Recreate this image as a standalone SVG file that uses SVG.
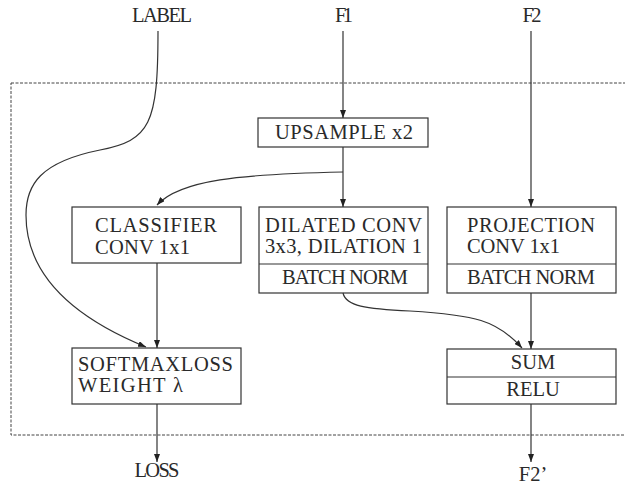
<svg xmlns="http://www.w3.org/2000/svg" width="625" height="485" viewBox="0 0 625 485">
  <defs>
    <marker id="arrow" markerWidth="8" markerHeight="6" refX="8" refY="3" orient="auto" markerUnits="userSpaceOnUse">
      <path d="M0,0 L8,3 L0,6 z" fill="#222"/>
    </marker>
    <style>
      .box { fill: #fff; stroke: #333; stroke-width: 1.2; }
      .div { stroke: #333; stroke-width: 1.2; }
      .t { font-family: "Liberation Serif", "Times New Roman", serif; font-size: 20.5px; fill: #2a2a2a; }
      .c { text-anchor: middle; }
      .edge { fill: none; stroke: #333; stroke-width: 1.2; marker-end: url(#arrow); }
      .frame { fill: none; stroke: #444; stroke-width: 1; stroke-dasharray: 3 1.5; }
    </style>
  </defs>
  <rect width="625" height="485" fill="#fff"/>

  <!-- dashed module boundary -->
  <rect class="frame" x="11" y="83" width="630" height="352"/>

  <!-- outer inputs / outputs -->
  <g id="label-in"><text class="t c" x="162" y="22" textLength="60">LABEL</text></g>
  <g id="f1-in"><text class="t c" x="344" y="22" textLength="18">F1</text></g>
  <g id="f2-in"><text class="t c" x="532" y="22" textLength="19">F2</text></g>
  <g id="loss-out"><text class="t c" x="157" y="477" textLength="45">LOSS</text></g>
  <g id="f2p-out"><text class="t c" x="533" y="481">F2’</text></g>

  <!-- nodes -->
  <g id="upsample">
    <rect class="box" x="258" y="118" width="170" height="29"/>
    <text class="t" x="275" y="139" textLength="138">UPSAMPLE x2</text>
  </g>
  <g id="classifier">
    <rect class="box" x="72" y="207" width="169" height="56"/>
    <text class="t" x="95" y="232" textLength="122">CLASSIFIER</text>
    <text class="t" x="95" y="254" textLength="95">CONV 1x1</text>
  </g>
  <g id="dilated">
    <rect class="box" x="259" y="207" width="169" height="86"/>
    <line class="div" x1="259" y1="264" x2="428" y2="264"/>
    <text class="t" x="265" y="232" textLength="157">DILATED CONV</text>
    <text class="t" x="265" y="253" textLength="157">3x3, DILATION 1</text>
    <text class="t" x="282" y="284" textLength="126">BATCH NORM</text>
  </g>
  <g id="projection">
    <rect class="box" x="447" y="207" width="169" height="86"/>
    <line class="div" x1="447" y1="264" x2="616" y2="264"/>
    <text class="t" x="467" y="232" textLength="128">PROJECTION</text>
    <text class="t" x="467" y="253" textLength="93">CONV 1x1</text>
    <text class="t" x="467" y="284" textLength="128">BATCH NORM</text>
  </g>
  <g id="softmaxloss">
    <rect class="box" x="72" y="348" width="169" height="56"/>
    <text class="t" x="78" y="371" textLength="155">SOFTMAXLOSS</text>
    <text class="t" x="78" y="392" textLength="105">WEIGHT λ</text>
  </g>
  <g id="sum-relu">
    <rect class="box" x="447" y="349" width="169" height="55"/>
    <line class="div" x1="447" y1="377" x2="616" y2="377"/>
    <text class="t c" x="533" y="369">SUM</text>
    <text class="t c" x="533" y="396">RELU</text>
  </g>

  <!-- connectors -->
  <g id="connectors">
    <path class="edge" d="M343,31 L343,118"/>
    <path class="edge" d="M531,31 L531,207"/>
    <path class="edge" d="M343,147 L343,207"/>
    <path class="edge" d="M343,172 C240,174 180,180 157,205"/>
    <path class="edge" d="M158,31 C158,125 150,140 100,150 C40,162 26,185 26,215 C26,280 80,320 146,347"/>
    <path class="edge" d="M157,263 L157,348"/>
    <path class="edge" d="M343,293 C346,306 365,309 410,311 C475,315 497,320 522,348"/>
    <path class="edge" d="M531,293 L531,349"/>
    <path class="edge" d="M157,404 L157,462"/>
    <path class="edge" d="M531,404 L531,462"/>
  </g>
</svg>
